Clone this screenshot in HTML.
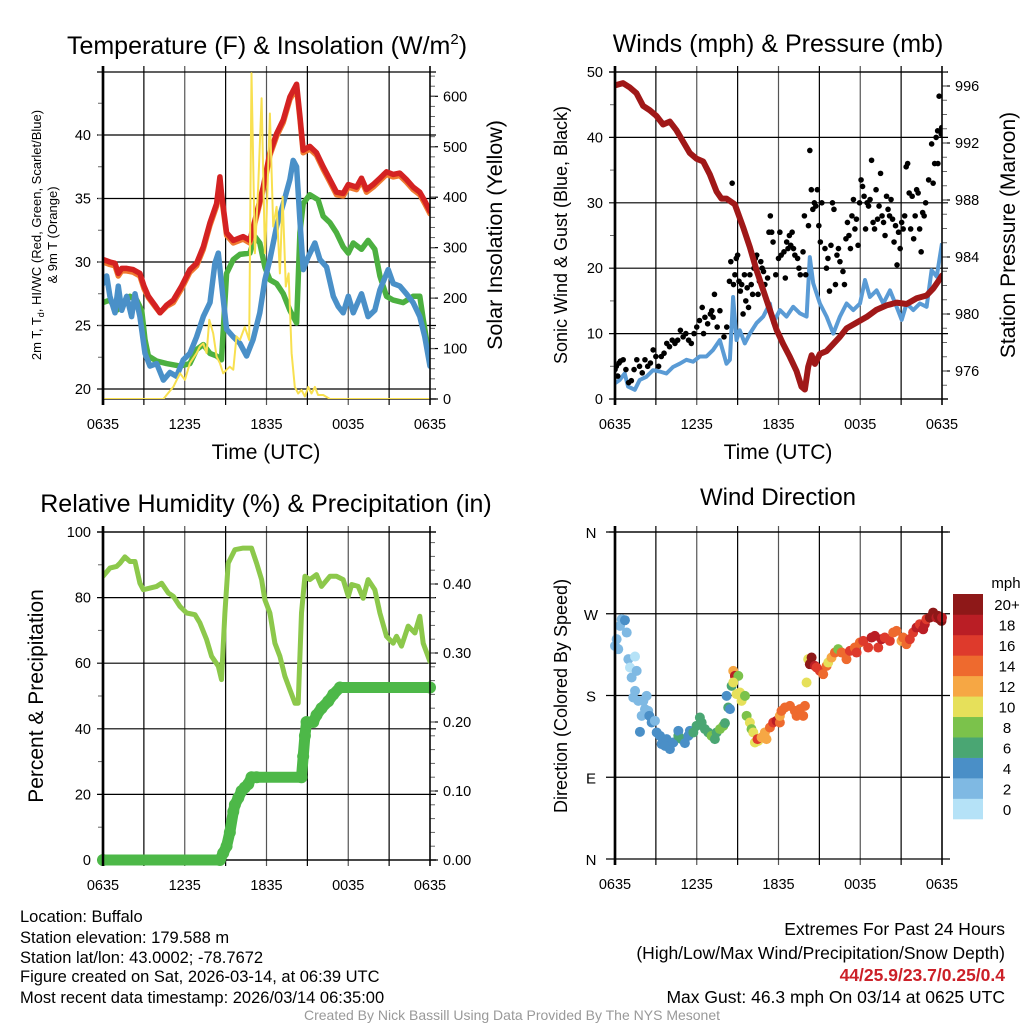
<!DOCTYPE html>
<html><head><meta charset="utf-8"><style>
html,body{margin:0;padding:0;background:#fff;}
svg{display:block;font-family:"Liberation Sans",sans-serif;}
</style></head><body>
<svg id="fig" width="1024" height="1024" viewBox="0 0 1024 1024" xmlns="http://www.w3.org/2000/svg">
<rect width="1024" height="1024" fill="#fff"/>
<defs>
<clipPath id="c1"><rect x="103" y="72" width="327" height="327"/></clipPath>
<clipPath id="c2"><rect x="615" y="72" width="327" height="327"/></clipPath>
<clipPath id="c3"><rect x="103" y="532" width="327" height="328"/></clipPath>
</defs>
<g id="p1"></g>
<g id="p2"></g>
<g id="p3"></g>
<g id="p4"></g>
<text x="267" y="54" font-size="25" text-anchor="middle">Temperature (F) &amp; Insolation (W/m<tspan font-size="15" dy="-10">2</tspan><tspan dy="10">)</tspan></text>
<text x="778" y="52" font-size="25" text-anchor="middle">Winds (mph) &amp; Pressure (mb)</text>
<text x="266" y="512" font-size="25" text-anchor="middle">Relative Humidity (%) &amp; Precipitation (in)</text>
<text x="778" y="505" font-size="24" text-anchor="middle">Wind Direction</text>
<text x="266" y="459" font-size="21" text-anchor="middle">Time (UTC)</text>
<text x="778" y="459" font-size="21" text-anchor="middle">Time (UTC)</text>
<text font-size="13" text-anchor="middle" transform="translate(41,235) rotate(-90)">2m T, T<tspan font-size="9" dy="3">d</tspan><tspan dy="-3">, HI/WC (Red, Green, Scarlet/Blue)</tspan></text>
<text font-size="13" text-anchor="middle" transform="translate(57,235) rotate(-90)">&amp; 9m T (Orange)</text>
<text font-size="21.5" text-anchor="middle" transform="translate(502,235) rotate(-90)">Solar Insolation (Yellow)</text>
<text font-size="18" text-anchor="middle" transform="translate(567,235) rotate(-90)">Sonic Wind &amp; Gust (Blue, Black)</text>
<text font-size="21" text-anchor="middle" transform="translate(1015,235) rotate(-90)">Station Pressure (Maroon)</text>
<text font-size="21" text-anchor="middle" transform="translate(43,696) rotate(-90)">Percent &amp; Precipitation</text>
<text font-size="18" text-anchor="middle" transform="translate(567,696) rotate(-90)">Direction (Colored By Speed)</text>
<text x="1006" y="588" font-size="15" text-anchor="middle">mph</text>
<g font-size="16.5">
<text x="20" y="922">Location: Buffalo</text>
<text x="20" y="943">Station elevation: 179.588 m</text>
<text x="20" y="963">Station lat/lon: 43.0002; -78.7672</text>
<text x="20" y="982">Figure created on Sat, 2026-03-14, at 06:39 UTC</text>
<text x="20" y="1003">Most recent data timestamp: 2026/03/14 06:35:00</text>
</g>
<g font-size="17.5" text-anchor="end">
<text x="1005" y="935">Extremes For Past 24 Hours</text>
<text x="1005" y="959">(High/Low/Max Wind/Precipitation/Snow Depth)</text>
<text x="1005" y="981" fill="#cc2028" font-weight="bold">44/25.9/23.7/0.25/0.4</text>
<text x="1005" y="1003">Max Gust: 46.3 mph On 03/14 at 0625 UTC</text>
</g>
<text x="512" y="1020" font-size="14" fill="#999" text-anchor="middle">Created By Nick Bassill Using Data Provided By The NYS Mesonet</text>
</svg>
<script>
// ---------- data ----------
const timeLabels = ["0635","1235","1835","0035","0635"];
const redT = [0,0.51,0.88,1.12,1.37,1.74,2.22,2.71,3.01,3.33,3.81,4.18,4.67,5.16,5.77,6.38,6.87,7.36,7.85,8.34,8.58,8.70,9.07,9.56,10.29,10.78,11.27,11.76,12.25,12.74,13.23,13.72,14.21,14.45,14.69,15.18,15.67,16.16,16.65,17.14,17.63,18.0,18.61,18.97,19.34,19.83,20.32,20.81,21.30,21.78,22.27,22.76,23.25,23.62,24];
const redV = [30.2,30.0,29.9,29.1,29.5,29.5,29.4,29.1,28.1,27.3,26.6,26.0,26.6,27.0,28.1,29.4,29.9,31.2,33.1,34.6,36.7,35.4,32.3,31.7,32.0,31.7,33.8,35.9,38.6,40.1,41.2,43.0,44.0,41.5,38.8,39.1,38.6,37.5,36.5,35.5,35.4,36.1,35.9,36.6,35.7,36.1,36.6,37.1,36.9,37.0,36.5,35.9,35.5,34.8,34.0];
const orangeV = [30.0,29.8,29.7,28.9,29.3,29.3,29.2,28.9,27.9,27.2,26.5,26.0,26.5,26.8,27.9,29.2,29.7,31.0,32.9,34.4,36.3,35.2,32.1,31.5,31.8,31.5,33.6,35.7,38.4,39.9,41.0,42.8,43.7,41.3,38.6,38.9,38.4,37.3,36.3,35.3,35.2,35.9,35.7,36.4,35.5,35.9,36.4,36.9,36.7,36.8,36.3,35.7,35.3,34.6,33.8];
const greenT = [0,0.51,1.0,1.49,1.98,2.47,2.84,3.08,3.33,3.94,4.67,5.65,6.38,6.87,7.36,7.85,8.34,8.70,9.07,9.56,10.05,10.78,11.15,11.51,11.88,12.25,12.74,13.23,13.72,14.21,14.45,14.69,15.18,15.79,16.16,16.65,17.14,17.63,18.0,18.37,18.97,19.46,19.95,20.32,20.81,21.30,22.03,22.76,23.25,23.50,23.74,24];
const greenV = [26.8,27.0,26.2,26.6,27.3,27.0,26.2,23.9,22.6,22.2,22.0,21.8,22.0,23.1,23.5,22.8,22.6,22.3,29.1,30.2,30.6,30.7,32.0,31.5,29.6,28.6,28.3,27.5,26.2,25.2,32.3,34.6,35.3,34.9,33.6,33.1,32.3,31.2,30.7,31.5,31.0,31.7,31.0,28.9,27.3,27.0,26.8,27.3,27.3,25.5,23.9,22.8];
const blueT = [0,0.27,0.51,0.88,1.12,1.37,1.74,2.1,2.35,2.71,3.08,3.45,3.94,4.43,4.91,5.40,5.89,6.38,6.87,7.36,7.85,8.21,8.46,8.70,9.07,9.56,10.05,10.54,11.02,11.51,11.88,12.25,12.74,13.23,13.72,13.96,14.21,14.45,14.69,15.06,15.55,15.92,16.41,16.90,17.26,17.63,18.0,18.37,18.97,19.46,19.95,20.32,20.93,21.30,21.78,22.27,22.76,23.25,23.62,24];
const blueV = [28.3,28.9,27.3,26.0,28.1,26.2,27.3,25.7,27.5,25.7,22.8,21.8,22.0,20.7,21.3,21.0,22.3,22.8,24.1,25.7,26.8,29.9,30.7,28.3,24.7,24.1,23.6,22.6,23.9,26.0,28.6,30.2,32.8,34.6,36.5,38.0,37.5,33.3,29.4,30.4,31.5,30.2,29.6,27.3,26.5,26.0,27.3,26.0,27.5,25.7,26.2,27.8,29.4,28.3,28.1,27.5,26.8,25.7,24.1,21.8];
const solarT = [0,4.43,4.67,5.16,5.65,6.01,6.38,6.87,7.11,7.36,7.60,7.80,8.09,8.34,8.58,8.82,9.07,9.31,9.56,9.80,10.05,10.41,10.73,10.90,11.15,11.39,11.64,11.88,12.00,12.25,12.49,12.74,12.98,13.18,13.42,13.62,13.84,14.08,14.33,14.57,14.82,15.06,15.30,15.55,15.79,16.16,16.65,24];
const solarV = [0,0,8,24,51,38,71,91,104,110,91,157,130,84,71,51,58,64,58,124,117,143,117,646,289,421,596,289,355,566,342,381,249,401,223,249,91,24,11,18,5,24,11,24,8,8,0,0];
const presT = [0,0.59,1.08,1.57,2.06,2.55,3.04,3.53,4.02,4.51,5.0,5.49,5.98,6.47,6.96,7.45,7.81,8.18,8.79,9.40,9.89,10.38,10.87,11.36,11.85,12.34,12.83,13.32,13.69,13.94,14.18,14.43,14.67,15.04,15.53,16.02,16.51,17.0,17.73,18.47,19.20,19.93,20.67,21.40,22.14,22.87,23.36,23.73,24];
const presV = [996.05,996.2,995.9,995.5,994.6,994.3,993.9,993.3,993.5,992.9,992.1,991.3,990.9,990.7,989.8,988.6,988.1,988.1,987.7,986.1,984.7,983.1,981.7,980.3,978.9,977.9,977.0,976.0,974.9,974.7,976.3,977.1,976.5,977.2,977.4,977.9,978.4,979.0,979.4,979.8,980.3,980.6,980.8,980.7,981.1,981.3,981.8,982.3,982.7];
const windT = [0,0.34,0.71,0.96,1.45,1.81,2.30,2.79,3.28,3.77,4.26,4.75,5.24,5.73,6.22,6.71,7.20,7.69,8.18,8.43,8.67,8.92,9.16,9.53,9.90,10.39,10.88,11.37,11.61,12.10,12.59,13.08,13.57,14.06,14.30,14.55,15.04,15.53,16.02,16.51,17.0,17.49,17.98,18.35,18.71,19.20,19.69,20.18,20.67,21.04,21.40,21.89,22.38,22.87,23.24,23.61,24];
const windV = [2.4,2.9,3.9,1.9,1.4,2.9,3.4,4.4,4.2,3.9,4.9,5.4,6.0,5.7,6.5,6.5,7.5,9.0,5.4,6.0,15.6,9.0,10.5,8.5,10.0,11.6,12.6,14.6,11.6,13.6,12.6,14.1,13.1,12.6,21.7,17.7,14.6,12.6,10.0,12.6,14.6,13.6,14.6,18.2,15.6,16.6,14.6,16.6,14.1,12.1,14.6,13.6,14.6,14.1,19.7,18.7,23.8];
const gustT = [0,0.1,0.2,0.3,0.4,0.6,0.8,1.0,1.2,1.4,1.6,1.8,2.0,2.2,2.4,2.6,2.8,3.0,3.2,3.4,3.6,3.8,4.0,4.2,4.4,4.6,4.8,5.0,5.2,5.4,5.6,5.8,6.0,6.2,6.4,6.5,6.6,6.8,7.0,7.1,7.2,7.3,7.5,7.7,8.0,8.2,8.4,8.5,8.6,8.7,8.8,8.9,9.0,9.1,9.2,9.3,9.4,9.5,9.6,9.7,9.8,9.9,10.0,10.1,10.2,10.3,10.4,10.5,10.6,10.7,10.8,10.9,11.0,11.2,11.3,11.4,11.5,11.6,11.8,12.0,12.1,12.2,12.4,12.5,12.6,12.7,12.8,12.9,13.0,13.1,13.2,13.4,13.5,13.6,13.8,13.9,14.0,14.2,14.3,14.41,14.52,14.63,14.74,14.85,14.96,15.07,15.18,15.41,15.52,15.63,15.74,15.85,15.96,16.07,16.18,16.29,16.40,16.51,16.73,16.84,16.95,17.06,17.17,17.28,17.39,17.50,17.61,17.72,17.84,17.95,18.06,18.17,18.28,18.39,18.50,18.61,18.72,18.83,18.94,19.05,19.16,19.27,19.38,19.49,19.60,19.71,19.82,19.93,20.04,20.15,20.26,20.37,20.48,20.59,20.70,20.81,20.93,21.04,21.15,21.26,21.37,21.48,21.59,21.70,21.81,21.92,22.03,22.14,22.25,22.36,22.47,22.58,22.69,22.80,23.02,23.24,23.35,23.46,23.57,23.68,23.79,23.70,23.95,24,23.98];
const gustV = [4.5,5,3.5,5.5,5.8,6,4.5,2.5,2.8,4.5,6,5,4,6,5,5.5,7.5,6.5,5,6.5,7,8.5,8,9,8.5,9,10.5,9.5,10,9,8.5,10,11,12,14,10,12.5,11.5,13,13.5,12.5,16,11,13.5,9.5,11,18,21,33,17.5,19,21.5,22,18,16.5,17.5,13,19,15,17,14,19,17.5,16,20,21.5,22,16,18,21,20,19.5,17.5,18.5,25.5,28,25.5,24,19,21.5,25.5,22,22.5,18.5,24,23,25,23.5,25.5,23,22,21.5,20,19,22.5,28,19,26.5,38,32,29,30,29.5,32,26.5,24,30,23,20,21.5,16.5,23.5,30,29,17.5,22,23,21,19.5,17.5,24.5,27,25,23,28,30.5,26,27.5,23.5,30,33.5,32.5,31,26,30,29.5,30.5,36.5,27,26,32,27.5,29.5,34.5,28,27,25,31,29,28,30.5,27.5,24,26.5,20.5,25.5,23,27,26,28,35.5,36,31.5,26,31,24.5,28,32,31.5,26,22.5,28.5,28,30,33.5,39,33,36,40,41,46.3,36,40.5,41,41.5];
const rhT = [0,0.51,1.0,1.25,1.61,1.98,2.35,2.71,2.96,3.45,3.94,4.30,4.79,5.16,5.65,6.14,6.75,7.11,7.60,7.97,8.46,8.70,8.95,9.19,9.68,10.29,10.90,11.27,11.64,11.88,12.25,12.62,12.98,13.35,13.72,14.09,14.33,14.57,14.82,15.18,15.67,16.04,16.65,17.14,17.63,18.0,18.25,18.73,19.10,19.46,19.95,20.32,20.81,21.30,21.54,21.91,22.40,22.89,23.25,23.50,24];
const rhV = [86.5,89,89.5,90.5,92.4,91,91,84.4,82.4,82.9,83.4,84.4,81.4,80.4,77.3,75.3,74.8,72.3,67.2,62.1,59.1,55,75.3,90.5,94.6,95.1,95.1,90.5,85.5,79.3,75.3,66.1,62.1,56,51.9,47.8,47.8,75.3,86.5,85.5,87,83.4,86.5,86.5,85.5,80.4,84,83.4,79.8,85.5,82.4,75.3,68.2,66.1,68.2,65.2,71.3,69.2,74.3,66.1,60.5];
const precipT = [0,8.58,8.82,9.07,9.31,9.56,9.68,9.93,10.17,10.41,10.66,10.90,11.27,14.57,14.69,14.82,14.94,15.43,15.67,16.04,16.53,16.90,17.39,24];
const precipV = [0,0,0.01,0.02,0.04,0.07,0.08,0.09,0.10,0.105,0.11,0.12,0.12,0.12,0.15,0.18,0.20,0.20,0.21,0.22,0.23,0.24,0.25,0.25];
const dirT = [0,0.12,0.24,0.37,0.49,0.73,0.86,0.98,1.10,1.47,1.59,1.22,1.47,1.34,1.71,2.08,2.32,2.20,2.44,1.96,2.52,1.83,2.69,2.93,3.06,3.30,3.42,3.79,3.67,4.03,4.28,4.65,4.65,4.89,5.13,5.38,5.50,5.75,5.99,6.23,6.36,6.60,6.85,7.09,7.33,7.46,7.70,7.95,8.07,8.19,8.31,8.44,8.56,8.68,8.80,9.05,8.68,8.92,9.29,9.17,9.54,9.66,9.90,10.02,10.15,10.27,10.51,10.46,10.76,11.12,11.00,11.37,11.61,11.86,12.10,12.10,12.22,12.47,12.84,13.20,13.33,13.57,13.81,13.94,14.06,14.18,14.30,14.43,14.67,14.79,15.04,15.28,15.53,15.65,15.89,16.14,16.38,16.63,16.99,17.24,17.60,17.73,17.97,18.22,18.58,18.83,19.07,19.32,19.56,19.80,20.17,20.42,20.66,21.03,21.15,21.39,21.64,21.88,22.13,22.37,22.62,22.74,22.86,23.11,23.35,23.59,23.72,23.84,23.96,24];
const dirV = [234.6,242,231,256.6,264,262.9,249.3,220,210.8,222.9,207.1,199.8,185.1,177.8,174.1,174.1,179.6,165,163.1,157.6,157.6,140,150.3,152.1,139.3,135.6,126.5,132,124.6,121,128.3,135.6,141.1,132,127.6,135.6,141.1,139.3,146.6,155.8,150.3,143,139.3,135.6,132,139.3,143,146.6,149.6,179.6,166.8,165,190.6,207.1,201.6,201.6,194.3,181.5,174.1,183.3,179.6,157.6,150.3,143,139.3,128.3,130.1,132,133.8,132,139.3,144.8,150.3,152.1,150.3,157.6,163.1,166.8,168.6,163.1,157.6,165,157.6,168.6,194.3,220,214.5,221.8,212.6,210.8,207.1,203.5,212.6,216.3,221.8,227.3,231,227.3,220,229.1,232.8,227.3,238.3,240.1,232.8,243.8,245.6,232.8,242,243.8,240.1,249.3,251.1,240.1,243.8,236.5,242,249.3,254.8,258.5,252.9,258.5,264,265.8,271.3,265.8,267.6,264,262.1,265.8];
const dirS = [2,2,2,2,2,4,2,1,0,0,2,2,2,1,2,2,2,2,2,2,4,4,4,2,4,4,4,4,4,4,4,5,4,6,4,4,4,6,6,6,6,6,5,8,6,6,8,8,6,4,5,4,6,12,17,8,10,10,10,10,8,8,10,8,10,10,10,16,12,12,12,14,16,18,14,12,14,14,14,14,14,14,14,14,10,10,20,20,18,16,16,14,14,10,12,14,8,14,14,16,14,16,14,16,16,18,18,16,18,16,16,14,14,12,14,14,16,16,18,16,18,18,16,20,20,18,20,20,20,18];
const speedLabels = ["0","2","4","6","8","10","12","14","16","18","20+"];
const speedColors = ["#b5e2f7","#7fb9e3","#4a8fc7","#4aa673","#7bc24b","#e6e05a","#f6a744","#ee6a2e","#de3a2c","#ba1e25","#8e1818"];

// ---------- helpers ----------
const NS="http://www.w3.org/2000/svg";
function mk(parent,tag,attrs){const e=document.createElementNS(NS,tag);for(const k in attrs)e.setAttribute(k,attrs[k]);parent.appendChild(e);return e;}
function txt(parent,x,y,s,size,anchor){const e=mk(parent,'text',{x:x,y:y,'font-size':size,'text-anchor':anchor||'middle'});e.textContent=s;return e;}
function pts(ts,vs,fx,fy){return ts.map((t,i)=>fx(t).toFixed(1)+','+fy(vs[i]).toFixed(1)).join(' ');}

function frame(g,x0,y0,w,h){
  for(let i=0;i<=8;i++){const x=x0+i*w/8;
    const l=mk(g,'line',{x1:x,x2:x,y1:y0-6,y2:y0+h+6,stroke:(i%2?'#000':'#555'),'stroke-width':(i===0?2.5:1.2)});
    
    }
  for(let i=0;i<5;i++){const t=mk(g,'text',{x:x0+i*w/4,y:y0+h+30,'font-size':14.5,'text-anchor':'middle'});t.textContent=timeLabels[i];
    
    }
  const top=mk(g,'line',{x1:x0-6,x2:x0+w+6,y1:y0,y2:y0,stroke:'#000','stroke-width':1.3});
  
  
}
function yaxis(g,x,side,vals,fy,labels,minor,x0,w,grid){
  vals.forEach((v,i)=>{const y=fy(v);
    if(grid){const l=mk(g,'line',{x1:x0-6,x2:x0+w+6,y1:y,y2:y,stroke:'#000','stroke-width':1.2});
      
      }
    else{mk(g,'line',{x1:x,x2:x+side*8,y1:y,y2:y,stroke:'#000','stroke-width':1.2});}
    const t=mk(g,'text',{x:x+side*(side<0?12:13),y:y+5,'font-size':14.5,'text-anchor':side<0?'end':'start'});t.textContent=labels[i];
    
    });
  minor.forEach(v=>{const y=fy(v);mk(g,'line',{x1:x,x2:x+side*5,y1:y,y2:y,stroke:'#666','stroke-width':1});});
}
function range(a,b,s){const r=[];for(let v=a;v<=b+1e-9;v+=s)r.push(+v.toFixed(4));return r;}

// ---------- panel 1 ----------
(function(){
  const g=document.getElementById('p1');
  const X=t=>103+t*327/24, Y=v=>389-(v-20)*12.7, S=v=>399-v*0.5045;
  frame(g,103,72,327,327);
  yaxis(g,103,-1,[20,25,30,35,40],Y,['20','25','30','35','40'],range(22.5,42.5,2.5),103,327,true);
  yaxis(g,430,1,[0,100,200,300,400,500,600],S,['0','100','200','300','400','500','600'],range(20,640,20),103,327,false);
  mk(g,'line',{x1:103,x2:436,y1:399,y2:399,stroke:'#000','stroke-width':1.3});
  const c=mk(g,'g',{'clip-path':'url(#c1)'});
  const series=[[greenT,greenV,'#4cb040','dewpoint-line'],[blueT,blueV,'#4a90c8','windchill-line'],[redT,orangeV,'#f07a30','temp-9m-line'],[redT,redV,'#d42222','temp-2m-line']];
  series.forEach(s=>{const p=mk(c,'polyline',{points:pts(s[0],s[1],X,Y),fill:'none',stroke:s[2],'stroke-width':5.5,'stroke-linejoin':'round','stroke-linecap':'round'});
    
    });
  const sp=mk(c,'polyline',{points:pts(solarT,solarV,X,S),fill:'none',stroke:'#f8e050','stroke-width':2,'stroke-linejoin':'round'});
  
  
  mk(g,'line',{x1:103,x2:103,y1:66,y2:405,stroke:'#000','stroke-width':2.5});
  mk(g,'line',{x1:430,x2:430,y1:66,y2:405,stroke:'#000','stroke-width':1.5});
})();

// ---------- panel 2 ----------
(function(){
  const g=document.getElementById('p2');
  const X=t=>615+t*327/24, W=v=>399-v*6.54, P=p=>86+(996-p)*14.25;
  frame(g,615,72,327,327);
  yaxis(g,615,-1,[0,10,20,30,40,50],W,['0','10','20','30','40','50'],range(5,45,10),615,327,true);
  yaxis(g,942,1,[976,980,984,988,992,996],P,['976','980','984','988','992','996'],range(975,997,1),615,327,false);
  mk(g,'line',{x1:615,x2:948,y1:399,y2:399,stroke:'#000','stroke-width':1.3});
  const c=mk(g,'g',{'clip-path':'url(#c2)'});
  const wl=mk(c,'polyline',{points:pts(windT,windV,X,W),fill:'none',stroke:'#5a9bd5','stroke-width':4,'stroke-linejoin':'round'});
  
  
  gustT.forEach((t,i)=>{const d=mk(c,'circle',{cx:X(t),cy:W(gustV[i]),r:2.8,fill:'#000'});
    
    });
  const pl=mk(c,'polyline',{points:pts(presT,presV,X,P),fill:'none',stroke:'#a01818','stroke-width':6,'stroke-linejoin':'round','stroke-linecap':'round'});
  
  
  mk(g,'line',{x1:615,x2:615,y1:66,y2:405,stroke:'#000','stroke-width':2.5});
  mk(g,'line',{x1:942,x2:942,y1:66,y2:405,stroke:'#000','stroke-width':1.5});
})();

// ---------- panel 3 ----------
(function(){
  const g=document.getElementById('p3');
  const X=t=>103+t*327/24, R=v=>860-v*3.28, Q=v=>860-v*690;
  frame(g,103,532,327,328);
  yaxis(g,103,-1,[0,20,40,60,80,100],R,['0','20','40','60','80','100'],range(10,90,20),103,327,true);
  yaxis(g,430,1,[0,0.1,0.2,0.3,0.4],Q,['0.00','0.10','0.20','0.30','0.40'],range(0.02,0.46,0.02),103,327,false);
  mk(g,'line',{x1:103,x2:436,y1:860,y2:860,stroke:'#000','stroke-width':1.3});
  const c=mk(g,'g',{'clip-path':'url(#c3)'});
  const rl=mk(c,'polyline',{points:pts(rhT,rhV,X,R),fill:'none',stroke:'#8cc84b','stroke-width':5,'stroke-linejoin':'round','stroke-linecap':'round'});
  
  
  const pp=mk(g,'polyline',{points:pts(precipT,precipV,X,Q),fill:'none',stroke:'#4db848','stroke-width':11,'stroke-linejoin':'round','stroke-linecap':'round'});
  
  
  precipT.forEach((t,i)=>{const d=mk(g,'circle',{cx:X(t),cy:Q(precipV[i]),r:6,fill:'#4db848'});
    
    });
  mk(g,'line',{x1:103,x2:103,y1:526,y2:866,stroke:'#000','stroke-width':2.5});
  mk(g,'line',{x1:430,x2:430,y1:526,y2:866,stroke:'#000','stroke-width':1.5});
})();

// ---------- panel 4 ----------
(function(){
  const g=document.getElementById('p4');
  const X=t=>615+t*327/24, D=d=>859-d*327/360;
  frame(g,615,532,327,327);
  [0,90,180,270,360].forEach((v,i)=>{const y=D(v);
    const l=mk(g,'line',{x1:606,x2:950,y1:y,y2:y,stroke:'#000','stroke-width':1.2});
    
    
    const t=txt(g,591,y+6,['N','E','S','W','N'][i],15,'middle');
    
    });
  dirT.forEach((t,i)=>{const idx=Math.min(10,Math.round(dirS[i]/2));
    const d=mk(g,'circle',{cx:X(t),cy:D(dirV[i]),r:5,fill:speedColors[idx]});
    
    });
  mk(g,'line',{x1:615,x2:615,y1:526,y2:865,stroke:'#000','stroke-width':2.5});
  mk(g,'line',{x1:942,x2:942,y1:526,y2:865,stroke:'#000','stroke-width':1.5});
  const bh=225/11;
  speedLabels.forEach((s,i)=>{const y=594+(10-i)*bh;
    const r=mk(g,'rect',{x:953,y:y,width:30,height:bh+0.3,fill:speedColors[i]});
    
    
    const t=txt(g,1007,y+bh/2+6,s,15,'middle');
    
    });
})();
</script>
</body></html>
